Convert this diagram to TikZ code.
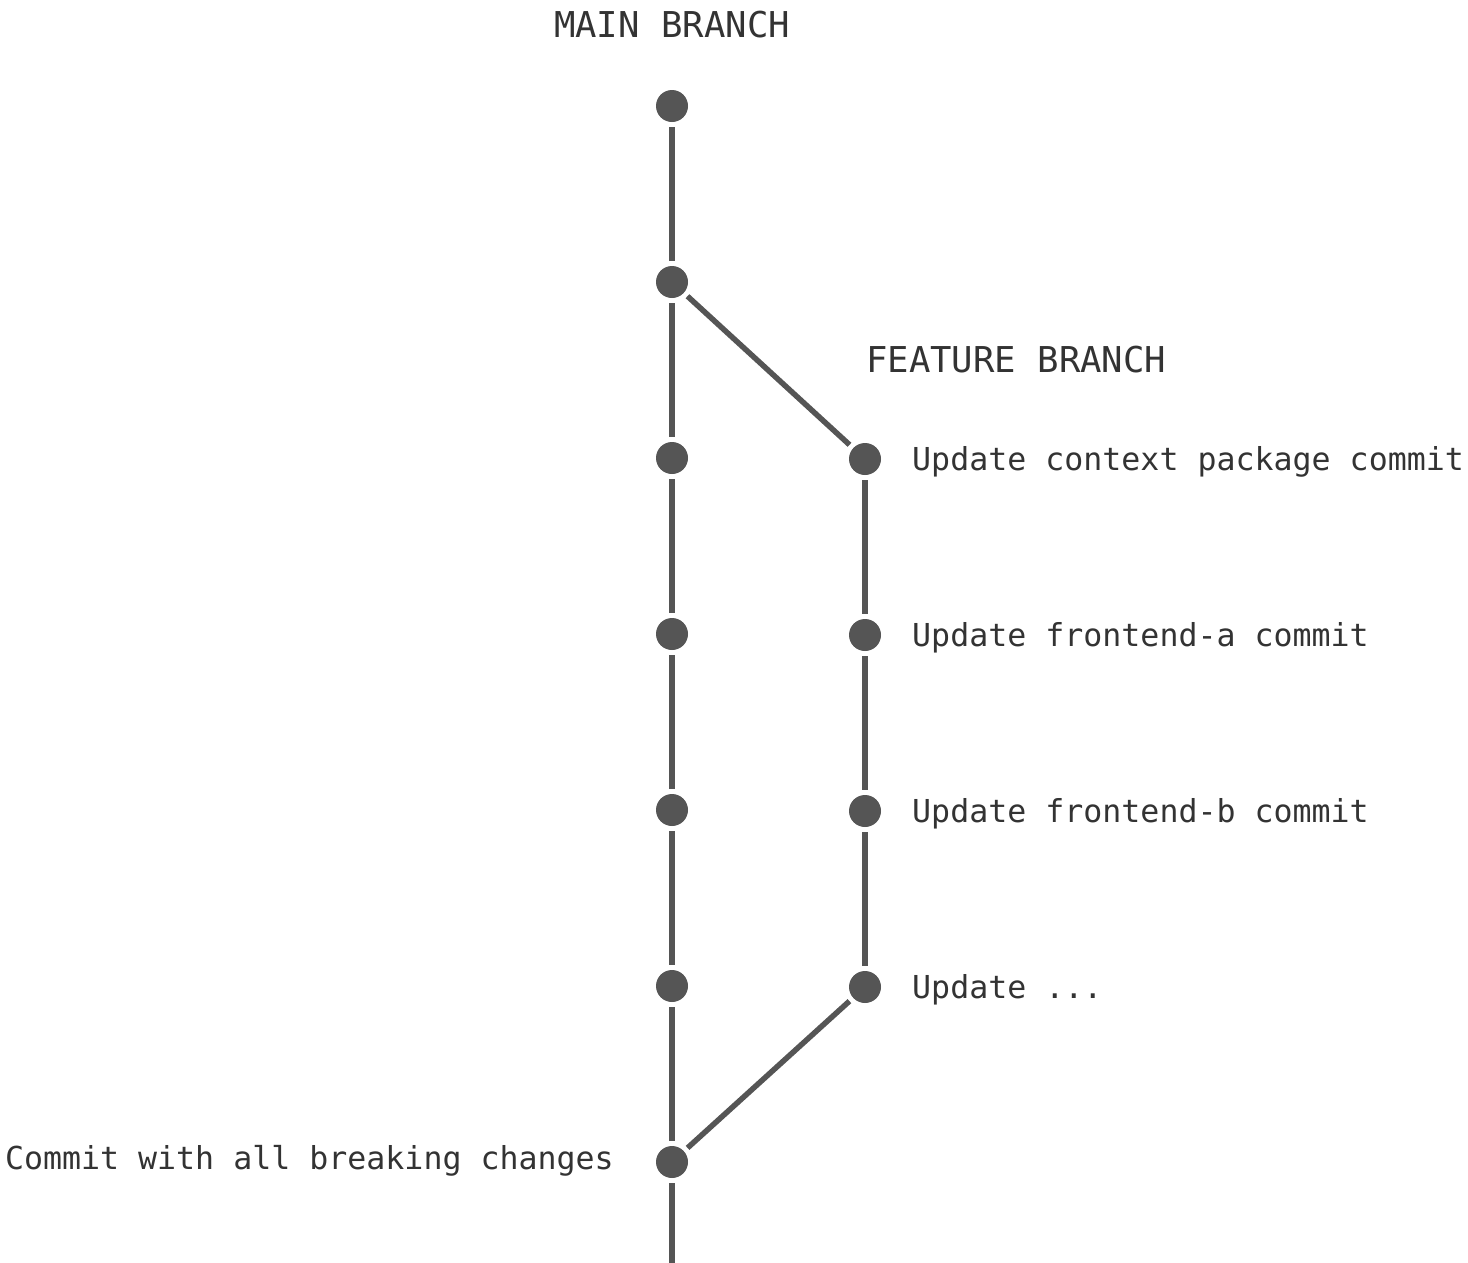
\documentclass[tikz,border=0pt]{standalone}
\usepackage{fontspec}
\setmonofont{DejaVu Sans Mono}
\definecolor{linegray}{HTML}{555555}
\definecolor{textgray}{HTML}{333333}
\begin{document}
\begin{tikzpicture}[x=1pt,y=-1pt,
  commit/.style={circle,fill=linegray,draw=none,minimum size=32pt,inner sep=0pt,outer sep=5pt},
  branchline/.style={draw=linegray,line width=5.5pt},
  lbl/.style={inner sep=0pt,text=textgray,font=\ttfamily\fontsize{31.6}{36}\selectfont},
  head/.style={inner sep=0pt,text=textgray,font=\ttfamily\fontsize{35.6}{40}\selectfont}]
\useasboundingbox (0,0) rectangle (1468,1262);
% main branch commits
\node[commit] (m1) at (672,106) {};
\node[commit] (m2) at (672,282) {};
\node[commit] (m3) at (672,458) {};
\node[commit] (m4) at (672,634) {};
\node[commit] (m5) at (672,810) {};
\node[commit] (m6) at (672,986) {};
\node[commit] (m7) at (672,1162) {};
\coordinate (mend) at (672,1264);
% feature branch commits
\node[commit] (f1) at (865,459) {};
\node[commit] (f2) at (865,635) {};
\node[commit] (f3) at (865,811) {};
\node[commit] (f4) at (865,987) {};
% connectors
\draw[branchline] (m1) -- (m2);
\draw[branchline] (m2) -- (m3);
\draw[branchline] (m3) -- (m4);
\draw[branchline] (m4) -- (m5);
\draw[branchline] (m5) -- (m6);
\draw[branchline] (m6) -- (m7);
\draw[branchline] (m7) -- (mend);
\draw[branchline] (m2) -- (f1);
\draw[branchline] (f1) -- (f2);
\draw[branchline] (f2) -- (f3);
\draw[branchline] (f3) -- (f4);
\draw[branchline] (f4) -- (m7);
% headings
\node[head,anchor=base] (hmain) at (672,37) {MAIN BRANCH};
\node[head,anchor=base west] (hfeat) at (866,372) {FEATURE BRANCH};
% labels
\node[lbl,anchor=base west] (l1) at (912,470) {Update context package commit};
\node[lbl,anchor=base west] (l2) at (912,646) {Update frontend-a commit};
\node[lbl,anchor=base west] (l3) at (912,822) {Update frontend-b commit};
\node[lbl,anchor=base west] (l4) at (912,998) {Update ...};
\node[lbl,anchor=base east] (l5) at (614,1169) {Commit with all breaking changes};
\end{tikzpicture}
\end{document}
